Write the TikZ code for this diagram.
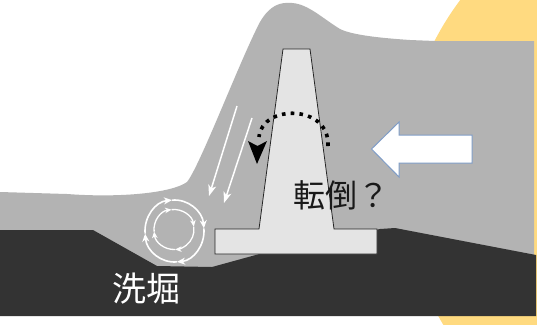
\documentclass[tikz,border=0pt]{standalone}
\usepackage{fontspec}
\newfontfamily\jpfont{Noto Sans CJK JP}
\usetikzlibrary{arrows.meta}

\definecolor{sky}{HTML}{FFFFFF}
\definecolor{sunny}{HTML}{FFDA80}
\definecolor{water}{HTML}{B3B3B3}
\definecolor{ground}{HTML}{333333}
\definecolor{concrete}{HTML}{E4E4E4}
\definecolor{arrowedge}{HTML}{7F9CC6}

\tikzset{
  flow/.style={draw=white, line width=1.5pt, -{Stealth[length=11pt,width=8pt,inset=3pt]}},
  vortexout/.style={draw=white, line width=1.6pt, -{Stealth[length=8pt,width=7pt,inset=2.5pt]}},
  vortexin/.style={draw=white, line width=1.3pt, -{Stealth[length=6.5pt,width=5.5pt,inset=2pt]}},
  tipping/.style={draw=black, line width=3.6pt, dash pattern=on 3.6pt off 5.2pt},
  wall/.style={fill=concrete, draw=black!85, line width=0.8pt, line join=miter},
  push/.style={fill=white, draw=arrowedge, line width=1pt, line join=miter},
  label/.style={inner sep=0pt, font=\jpfont\fontsize{32}{36}\selectfont}
}

\begin{document}
\begin{tikzpicture}[x=1pt, y=-1pt]
  \useasboundingbox (0,0) rectangle (537,324);
  \fill[sky] (0,0) rectangle (537,324);

  % sun behind the scene
  \begin{scope}
    \clip (0,0) rectangle (537,324);
    \fill[sunny] (694,175) circle[radius=292];
  \end{scope}

  % water body with the wave crest
  \fill[water] (0,192) -- (67,194)
    .. controls (120,198) and (172,193) .. (187,182)
    .. controls (200,166) and (240,60) .. (260,22)
    .. controls (270,5) and (280,2) .. (292,3)
    .. controls (308,4) and (322,18) .. (340,29)
    .. controls (352,35) and (380,38) .. (410,40)
    -- (435,41) -- (534,41) -- (534,300) -- (0,300) -- cycle;

  % sea bed
  \fill[ground] (0,230) -- (93,230) -- (157,266) -- (212,267) -- (263,253)
    -- (380,229) -- (395,228) -- (536,255) -- (536,316) -- (0,316) -- cycle;

  % breakwater
  \draw[wall] (215,229) -- (259,229) -- (283,49) -- (310,49) -- (334,229)
    -- (377,229) -- (377,254) -- (215,254) -- cycle;

  % overflow running down the back face
  \coordinate (f1s) at (237,106);
  \coordinate (f1e) at (209,196);
  \coordinate (f2s) at (252,118);
  \coordinate (f2e) at (224,203);
  \draw[flow] (f1s) -- (f1e);
  \draw[flow] (f2s) -- (f2e);

  % scour vortex
  \coordinate (vc) at (174.5,231);
  \draw[vortexout] (vc) ++(175:29.5 and 31) arc[start angle=175, end angle=265, x radius=29.5, y radius=31];
  \draw[vortexout] (vc) ++(265:29.5 and 31) arc[start angle=265, end angle=355, x radius=29.5, y radius=31];
  \draw[vortexout] (vc) ++(355:29.5 and 31) arc[start angle=355, end angle=445, x radius=29.5, y radius=31];
  \draw[vortexout] (vc) ++(85:29.5 and 31) arc[start angle=85, end angle=175, x radius=29.5, y radius=31];
  \coordinate (vi) at (174,229.5);
  \draw[vortexin] (vi) ++(174:20) arc[start angle=174, end angle=263, radius=20];
  \draw[vortexin] (vi) ++(263:20) arc[start angle=263, end angle=352, radius=20];
  \draw[vortexin] (vi) ++(352:20) arc[start angle=352, end angle=447, radius=20];
  \draw[vortexin] (vi) ++(87:20) arc[start angle=87, end angle=174, radius=20];

  % overturning moment
  \coordinate (ts) at (328,146);
  \coordinate (te) at (259,137);
  \draw[tipping] (ts) .. controls (330,104) and (262,104) .. (te);
  \fill[black] (248,141) -- (257.5,146) -- (267,141) -- (257,164) -- cycle;

  % wave force
  \draw[push] (371.5,149) -- (399,122) -- (399,135) -- (472,135)
    -- (472,163) -- (399,163) -- (399,177) -- cycle;

  % captions
  \node[label, text=black!90] (tentou) at (341,195) {転倒？};
  \node[label, text=white, font=\jpfont\fontsize{34}{38}\selectfont] (senkutsu) at (146,289) {洗堀};
\end{tikzpicture}
\end{document}
